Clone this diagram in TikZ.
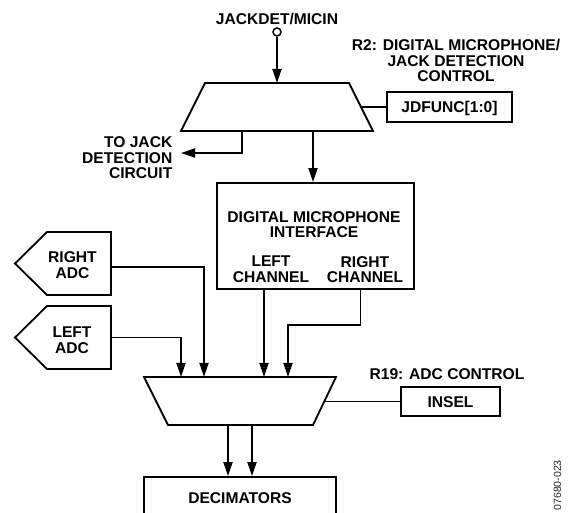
\documentclass[tikz,border=0pt]{standalone}
\usepackage{fontspec}
\setmainfont{Liberation Sans}
\usetikzlibrary{arrows.meta,calc}
\newcommand\lbf{\fontsize{15.6}{15.5}\selectfont\bfseries}
\begin{document}
\begin{tikzpicture}[x=1pt,y=-1pt,
  lw/.style={line width=1.8pt},
  arr/.style={line width=1.8pt,-{Triangle[length=14pt,width=9pt]}},
  boxnode/.style={draw,line width=1.8pt,inner sep=0pt,font=\lbf,text height=11.2pt,text depth=0pt},
  lbl/.style={font=\lbf,align=center,inner sep=0pt,anchor=north},
  ghost/.style={inner sep=0pt,outer sep=0pt}]
\useasboundingbox (0,0) rectangle (574,513);

% top input
\node[lbl] (jlab) at (277,12.5) {JACKDET/MICIN};
\node[draw,circle,line width=1.5pt,minimum size=8pt,inner sep=0pt] (jin) at (277,32) {};

% upper mux
\coordinate (m1tl) at (205,83); \coordinate (m1tr) at (349,83);
\coordinate (m1br) at (373,131); \coordinate (m1bl) at (181,131);
\draw[lw] (m1tl) -- (m1tr) -- (m1br) -- (m1bl) -- cycle;
\coordinate (m1in) at (277,83);
\coordinate (m1ctl) at (361,107);
\coordinate (m1o1) at (242,131);
\coordinate (m1o2) at (313,131);
\draw[arr] (jin) -- (m1in);

\node[boxnode,minimum width=125pt,minimum height=30pt] (jdf) at (449.5,107) {JDFUNC[1:0]};
\draw[lw] (m1ctl) -- (jdf.west);
\node[lbl] (r2) at (456,39) {R2: DIGITAL MICROPHONE/\\JACK DETECTION\\CONTROL};

\coordinate (jk) at (181,153);
\draw[arr] (m1o1) |- (jk);
\node[lbl,align=right,anchor=north east] (jklab) at (172.5,136.5) {TO JACK\\DETECTION\\CIRCUIT};

% digital microphone interface
\node[draw,lw,minimum width=197pt,minimum height=106pt,inner sep=0pt] (dmi) at (315.5,236) {};
\draw[arr] (m1o2) -- (m1o2 |- dmi.north);
\node[lbl] (dmit) at (314,211) {DIGITAL MICROPHONE\\INTERFACE};
\node[lbl] (lch) at (271,256) {LEFT\\CHANNEL};
\node[lbl] (rch) at (365,256) {RIGHT\\CHANNEL};

% ADCs
\node[ghost,minimum width=96pt,minimum height=63pt] (radc) at (63,263.5) {};
\draw[lw] (radc.north east) -- (radc.south east) -- ($(radc.south west)+(32,0)$) -- (radc.west) -- ($(radc.north west)+(32,0)$) -- cycle;
\node[lbl] (radct) at (72.5,251.7) {RIGHT\\ADC};
\node[ghost,minimum width=96pt,minimum height=63pt] (ladc) at (63,337.5) {};
\draw[lw] (ladc.north east) -- (ladc.south east) -- ($(ladc.south west)+(32,0)$) -- (ladc.west) -- ($(ladc.north west)+(32,0)$) -- cycle;
\node[lbl] (ladct) at (72,327) {LEFT\\ADC};

% lower mux
\coordinate (m2tl) at (144,377); \coordinate (m2tr) at (336,377);
\coordinate (m2br) at (313,425); \coordinate (m2bl) at (168,425);
\draw[lw] (m2tl) -- (m2tr) -- (m2br) -- (m2bl) -- cycle;
\coordinate (in1) at (181,377); \coordinate (in2) at (204,377);
\coordinate (in3) at (264,377); \coordinate (in4) at (288,377);
\coordinate (m2ctl) at (324.5,401.5);
\coordinate (o1) at (228,425); \coordinate (o2) at (252,425);

\draw[arr] ([yshift=-3.5pt]radc.east) -| (in2);
\draw[arr] (ladc.east) -| (in1);
\draw[arr] (dmi.south -| in3) -- (in3);
\draw[arr] ([xshift=45pt]dmi.south) -- ++(0,35) -| (in4);

\node[boxnode,minimum width=99pt,minimum height=29pt] (insel) at (450.5,401.5) {INSEL};
\draw[lw] (m2ctl) -- (m2ctl -| insel.west);
\node[lbl] (r19) at (447,368) {R19: ADC CONTROL};

\node[boxnode,minimum width=192pt,minimum height=42pt] (dec) at (240,498) {DECIMATORS};
\draw[arr] (o1) -- (o1 |- dec.north);
\draw[arr] (o2) -- (o2 |- dec.north);

\node[rotate=90,anchor=east,inner sep=0pt,font=\fontsize{10.5}{10.5}\selectfont,text=black!85] (fig) at (557.5,460) {07680-023};
\end{tikzpicture}
\end{document}
